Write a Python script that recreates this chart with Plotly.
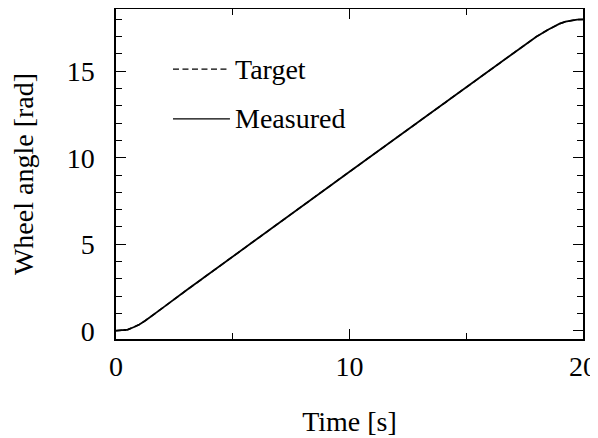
import plotly.graph_objects as go

time_s = [0, 0.25, 0.5, 0.75, 1, 1.25, 1.5, 2, 3, 4, 5, 6, 7, 8, 9, 10, 11, 12, 13,
          14, 15, 16, 17, 17.5, 18, 18.5, 18.75, 19, 19.25, 19.5, 19.75, 20]
target = [0.0, 0.01, 0.06, 0.2, 0.36, 0.58, 0.82, 1.32, 2.32, 3.31, 4.29, 5.27, 6.25,
          7.23, 8.21, 9.19, 10.17, 11.15, 12.13, 13.11, 14.09, 15.07, 16.05, 16.54,
          17.0, 17.4, 17.6, 17.75, 17.87, 17.95, 17.99, 18.0]
measured = [0.0, 0.01, 0.06, 0.2, 0.36, 0.58, 0.82, 1.32, 2.32, 3.31, 4.29, 5.27, 6.25,
            7.23, 8.21, 9.19, 10.17, 11.15, 12.13, 13.11, 14.09, 15.07, 16.05, 16.54,
            17.0, 17.4, 17.6, 17.75, 17.87, 17.95, 17.99, 18.0]
legend_names = ["Target", "Measured"]

FONT = "Liberation Serif, Times New Roman, serif"
FS = 28

fig = go.Figure()
fig.add_trace(go.Scatter(x=time_s, y=target, mode="lines", name=legend_names[0],
                         line=dict(color="black", width=1.5, dash="6px,3.5px"), showlegend=False))
fig.add_trace(go.Scatter(x=time_s, y=measured, mode="lines", name=legend_names[1],
                         line=dict(color="black", width=1.8), showlegend=False))

# manual legend
leg_y = [0.818, 0.667]
leg_dash = ["6px,3.5px", "solid"]
for name, yy, dsh in zip(legend_names, leg_y, leg_dash):
    fig.add_shape(type="line", xref="paper", yref="paper", x0=0.122, x1=0.244, y0=yy, y1=yy,
                  line=dict(color="black", width=1.3, dash=dsh))
    fig.add_annotation(xref="paper", yref="paper", x=0.25, y=yy, text=name, showarrow=False,
                       xanchor="left", yanchor="middle",
                       font=dict(family=FONT, size=FS, color="black"))

axis_common = dict(showline=True, linecolor="black", linewidth=1.5, mirror="allticks",
                   ticks="inside", tickcolor="black", tickwidth=1.3, ticklen=10,
                   showgrid=False, zeroline=False, automargin=False,
                   tickfont=dict(family=FONT, size=FS, color="black"))

fig.update_xaxes(range=[0, 20], dtick=10, tick0=0,
                 minor=dict(dtick=5, ticks="inside", ticklen=6, tickcolor="black", tickwidth=1.3),
                 ticklabelstandoff=2,
                 title=dict(text="Time [s]", font=dict(family=FONT, size=FS, color="black"), standoff=30),
                 **axis_common)
fig.update_yaxes(range=[-0.48, 18.6], dtick=5, tick0=0,
                 minor=dict(dtick=1, ticks="inside", ticklen=6, tickcolor="black", tickwidth=1.3),
                 ticklabelstandoff=14,
                 title=dict(text="Wheel angle [rad]", font=dict(family=FONT, size=FS, color="black"), standoff=30),
                 **axis_common)

fig.update_layout(width=590, height=430, margin=dict(l=108, r=15, t=1, b=99),
                  paper_bgcolor="white", plot_bgcolor="white",
                  font=dict(family=FONT, size=FS, color="black"))

fig.write_html("out.html")
